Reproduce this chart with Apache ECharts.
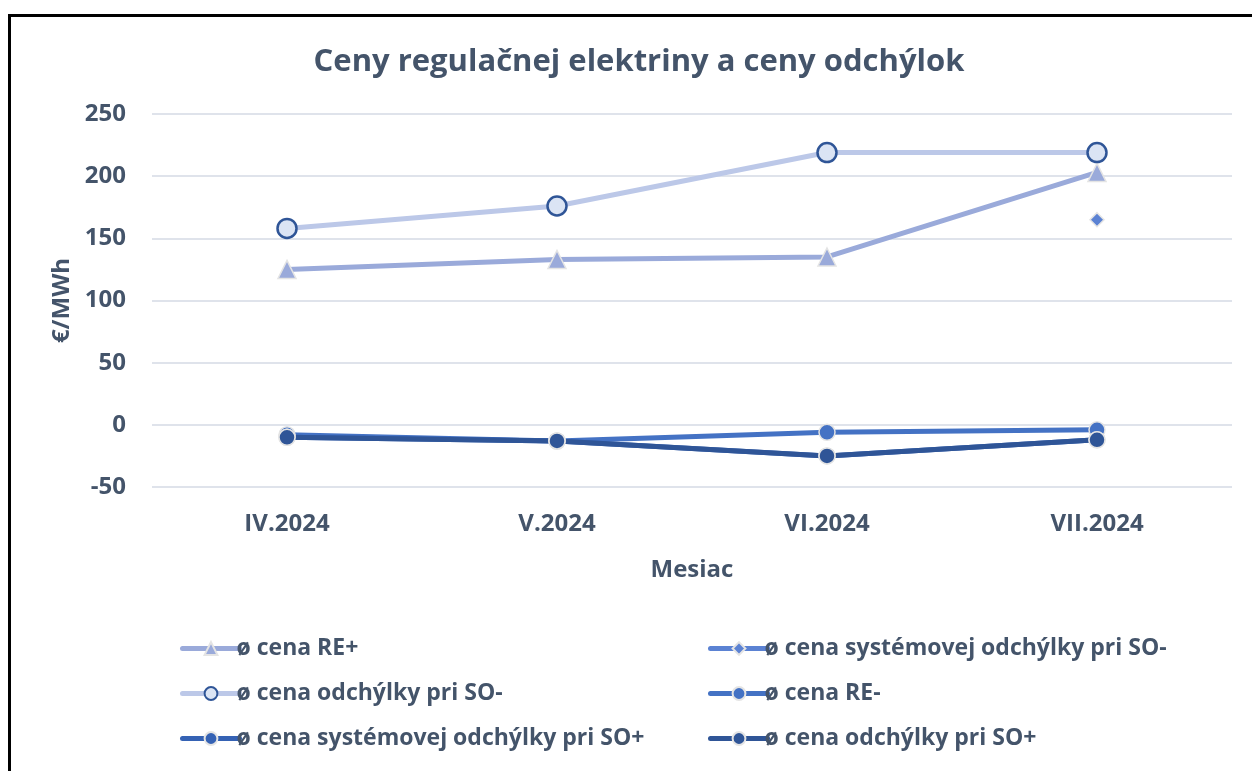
<!DOCTYPE html>
<html>
<head>
<meta charset="utf-8">
<script src="https://cdn.jsdelivr.net/npm/echarts@6/dist/echarts.min.js"></script>
<style>
html,body{margin:0;padding:0;background:#fff;}
#c{width:1252px;height:771px;}
</style>
</head>
<body>
<div id="c"></div>
<script>
var categories = ['IV.2024', 'V.2024', 'VI.2024', 'VII.2024'];
var rePlus = [125, 133, 135, 203];
var sysSOminus = [null, null, null, 165];
var odchSOminus = [158, 176, 219, 219];
var reMinus = [-8, -13, -6, -4];
var sysSOplus = [-10, -13, -25, -12];
var odchSOplus = [-10, -13, -25, -12];
var seriesNames = ['ø cena RE+', 'ø cena systémovej odchýlky pri SO-', 'ø cena odchýlky pri SO-', 'ø cena RE-', 'ø cena systémovej odchýlky pri SO+', 'ø cena odchýlky pri SO+'];

var FONT = 'Open Sans';
var TXT = '#44546a';
var chart = echarts.init(document.getElementById('c'));
var glow = {borderColor: '#e4e4e4', borderWidth: 1.5};
function mk(name, data, color, symbol, size) {
  return {
    name: name, type: 'line', data: data, symbol: symbol, symbolSize: size,
    lineStyle: {color: color, width: 5, cap: 'round'}, itemStyle: Object.assign({color: color}, glow),
    emphasis: {disabled: true}
  };
}
var legendCommon = {
  orient: 'vertical', itemWidth: 57, itemHeight: 16, itemGap: 22,
  lineStyle: {width: 5, cap: 'round'},
  textStyle: {fontFamily: FONT, fontSize: 23, fontWeight: 'bold', color: TXT, padding: [0,0,0,-8]}
};
chart.setOption({
  animation: false,
  backgroundColor: '#fff',
  title: {
    text: 'Ceny regulačnej elektriny a ceny odchýlok', left: 634, textAlign: 'center', top: 42,
    textStyle: {fontFamily: FONT, fontSize: 31, fontWeight: 'bold', color: TXT}
  },
  graphic: [{type: 'rect', shape: {x: 9.5, y: 15.5, width: 1300, height: 800}, style: {fill: null, stroke: '#000', lineWidth: 3}, silent: true}],
  grid: {left: 152, right: 20, top: 114, bottom: 284},
  xAxis: {
    type: 'category', data: categories, boundaryGap: true,
    name: 'Mesiac', nameLocation: 'middle', nameGap: 71,
    nameTextStyle: {fontFamily: FONT, fontSize: 24, fontWeight: 'bold', color: TXT},
    axisLine: {show: false}, axisTick: {show: false},
    axisLabel: {fontFamily: FONT, fontSize: 24, fontWeight: 'bold', color: TXT, margin: 25}
  },
  yAxis: {
    type: 'value', min: -50, max: 250, interval: 50,
    name: '€/MWh', nameLocation: 'middle', nameGap: 77, nameRotate: 90,
    nameTextStyle: {fontFamily: FONT, fontSize: 24, fontWeight: 'bold', color: TXT},
    axisLine: {show: false}, axisTick: {show: false},
    axisLabel: {fontFamily: FONT, fontSize: 24, fontWeight: 'bold', color: TXT, margin: 26},
    splitLine: {lineStyle: {color: '#dfe3eb', width: 2}}
  },
  legend: [
    Object.assign({}, legendCommon, {left: 175, top: 632, data: [seriesNames[0], seriesNames[2], seriesNames[4]]}),
    Object.assign({}, legendCommon, {left: 703, top: 632, data: [seriesNames[1], seriesNames[3], seriesNames[5]]})
  ],
  series: [
    mk(seriesNames[0], rePlus, '#9aaada', 'triangle', 18),
    mk(seriesNames[1], sysSOminus, '#5b82d3', 'diamond', 14),
    {
      name: seriesNames[2], type: 'line', data: odchSOminus, symbol: 'circle', symbolSize: 19,
      lineStyle: {color: '#bcc8e8', width: 5, cap: 'round'},
      itemStyle: {color: '#dbe4f4', borderColor: '#2f5597', borderWidth: 2.5},
      emphasis: {disabled: true}
    },
    mk(seriesNames[3], reMinus, '#4472c4', 'circle', 16),
    mk(seriesNames[4], sysSOplus, '#3562b4', 'circle', 16),
    mk(seriesNames[5], odchSOplus, '#2f5597', 'circle', 16)
  ]
});
</script>
</body>
</html>
